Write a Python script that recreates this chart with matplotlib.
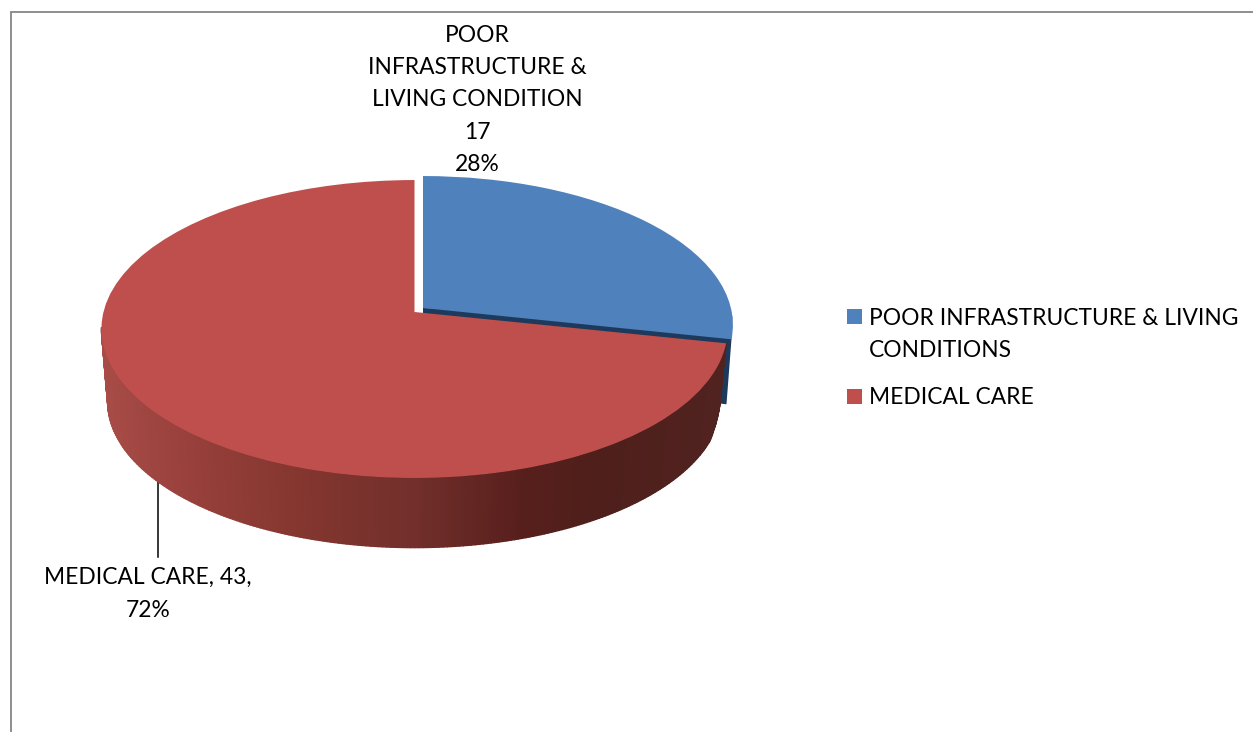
import numpy as np
import matplotlib
matplotlib.use("Agg")
import matplotlib.pyplot as plt
from matplotlib.collections import PolyCollection
from matplotlib.colors import to_rgb
from matplotlib.patches import Polygon, Rectangle
from matplotlib.transforms import Transform

plt.rcParams['font.family'] = ['Lato', 'DejaVu Sans']

# data
categorias = ["POOR INFRASTRUCTURE & LIVING\nCONDITIONS", "MEDICAL CARE"]
valores = [17, 43]
percentuais = ["28%", "72%"]
rotulo_azul = "POOR\nINFRASTRUCTURE &\nLIVING CONDITION"
rotulo_vermelho = "MEDICAL CARE"
cores = ["#4f81bd", "#be4f4c"]

W, H = 1253, 732
FS = 16.4
ESPACO = 1.67

# tilt of the 3D pie, in pixels
A, B, K = 147.0, 311.0, 0.114


def projeta(x, y, cx, cy, esc=1.0):
    d = 1 + K * y
    return cx + esc * B * x / d, cy - A * y / d * (esc if esc < 0.985 else 1.0)


class Projecao(Transform):
    input_dims = 2
    output_dims = 2
    is_affine = False
    has_inverse = False

    def __init__(self, cx, cy, esc):
        super().__init__()
        self.cx = cx
        self.cy = cy
        self.esc = esc

    def transform_non_affine(self, values):
        px, py = projeta(values[:, 0], values[:, 1], self.cx, self.cy, self.esc)
        return np.column_stack([px, py])


fig = plt.figure(figsize=(W / 100, H / 100), dpi=100)
ax = fig.add_axes([0, 0, 1, 1])

wedges, _ = ax.pie(valores, colors=cores, startangle=90, counterclock=False, radius=1)
ax.set_aspect('auto')
ax.set_xlim(0, W)
ax.set_ylim(H, 0)
ax.axis('off')

apices = [(423, 308), (414.5, 312)]
largura = [0.99, 1.0]
for w, (cx, cy), e in zip(wedges, apices, largura):
    w.set_transform(Projecao(cx, cy, e) + ax.transData)
    w.set_zorder(5)

# borda
ax.plot([11, 11, W], [H, 11.5, 11.5], color="#868686", lw=1.3, zorder=1, solid_joinstyle='miter')

# ==============================
# side walls
# ==============================
corte = 360 * valores[0] / sum(valores)
ESC = 0.98
DESCE = 73


def ponto(ang, cx, cy, esc=1.0):
    t = np.radians(ang)
    return projeta(np.sin(t), np.cos(t), cx, cy, esc)


# blue cut face and the small bit of outer wall
cx, cy = apices[0]
canto = ponto(corte, cx, cy, largura[0])
canto_b = (canto[0] - 5, canto[1] + 65)
ax.add_patch(Polygon([(cx, cy), ponto(93, cx, cy, largura[0]), canto, canto_b, (cx, cy + 60)],
                     closed=True, fc="#1d3a5c", ec="none", zorder=2))

# red wall, shaded along x
cx, cy = apices[1]
angs = np.linspace(corte, 264, 240)
xs_top, ys_top = ponto(angs, cx, cy)
xs_bot, ys_bot = ponto(angs, cx, cy + DESCE, ESC)
ys_bot = np.where(angs < 112, ys_bot - (112 - angs) * 1.1, ys_bot)

paradas_x = [105, 200, 300, 415, 520, 600, 720]
paradas_c = ["#a84c47", "#973f3b", "#84362f", "#722f2b", "#571f1c", "#4e1f1b", "#512320"]
rgb = np.array([to_rgb(c) for c in paradas_c])
quads = []
faces = []
for i in range(len(angs) - 1):
    quads.append([(xs_top[i], ys_top[i]), (xs_top[i + 1], ys_top[i + 1]),
                  (xs_bot[i + 1], ys_bot[i + 1]), (xs_bot[i], ys_bot[i])])
    xm = (xs_bot[i] + xs_bot[i + 1]) / 2
    faces.append([np.interp(xm, paradas_x, rgb[:, j]) for j in range(3)])
ax.add_collection(PolyCollection(quads, facecolors=faces, edgecolors=faces, linewidths=1.0, zorder=3))

# ==============================
# labels
# ==============================
ax.text(477, 100, f"{rotulo_azul}\n{valores[0]}\n{percentuais[0]}", ha='center', va='center',
        fontsize=FS, linespacing=ESPACO, color="black", zorder=6)
ax.text(148, 594, f"{rotulo_vermelho}, {valores[1]},\n{percentuais[1]}", ha='center', va='center',
        fontsize=FS, linespacing=ESPACO, color="black", zorder=6)
ax.plot([158, 158], [478, 557], color="black", lw=1.1, zorder=2)

# legend
for cor, nome, y, base in zip(cores, categorias, [309, 389], [357, 404]):
    ax.add_patch(Rectangle((847, y), 15, 15, fc=cor, ec="none", zorder=6))
    ax.text(869, base, nome, ha='left', va='baseline', fontsize=FS, linespacing=ESPACO,
            color="black", zorder=6)

fig.savefig("out.png", dpi=100)
plt.close(fig)
